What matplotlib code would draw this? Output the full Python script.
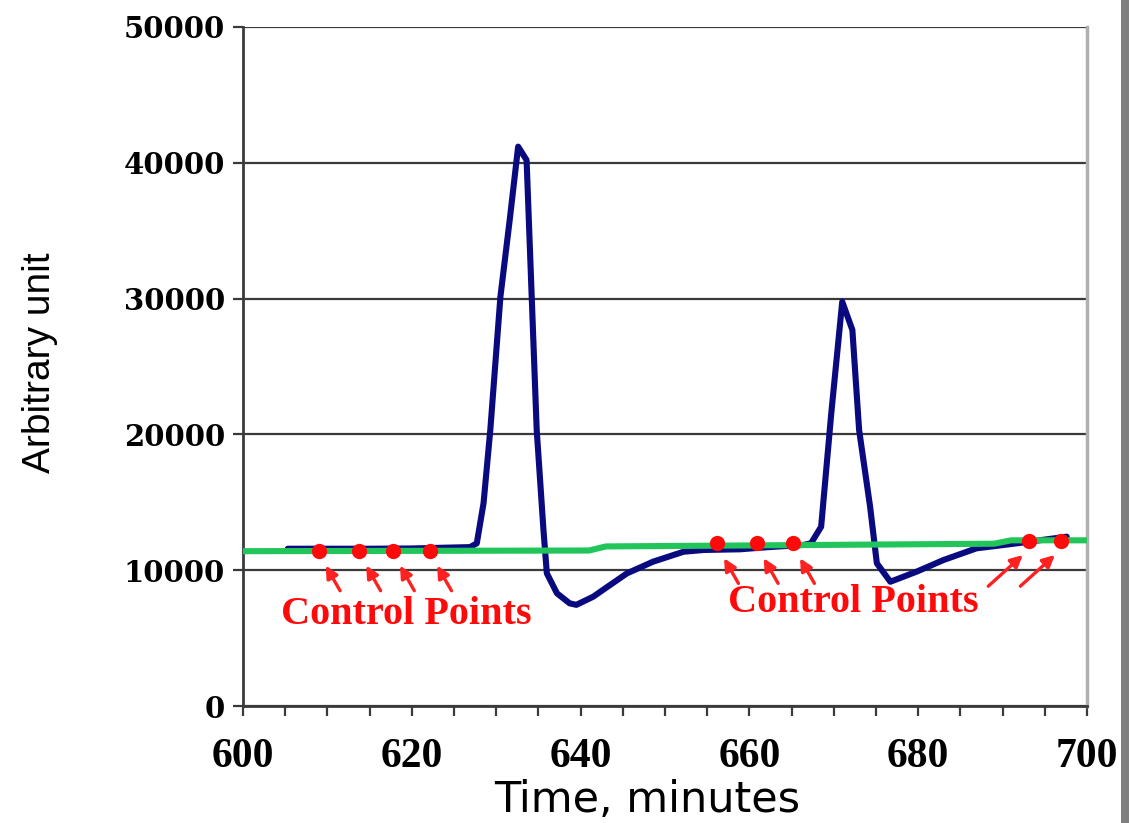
import matplotlib
matplotlib.use("Agg")
import matplotlib.pyplot as plt
from matplotlib.patches import Rectangle
from matplotlib.ticker import MultipleLocator

# ---- data ----
signal_t = [605.3, 610, 615, 620, 626.9, 627.7, 628.5, 629.3, 630.5, 631.6, 632.6, 633.6,
            634.8, 635.6, 636.0, 637.2, 638.7, 639.5, 641.5, 643, 645.5, 648.6, 652.2,
            654.6, 658.9, 662.0, 666.4, 667.3, 668.5, 669.7, 671.0, 672.2, 673.0, 674.3,
            675.1, 676.7, 679.8, 683.0, 686.9, 691.7, 697.6]
signal_v = [11580, 11580, 11580, 11600, 11700, 11980, 14930, 20320, 30140, 35790, 41190, 40200,
            20320, 12960, 9770, 8300, 7560, 7450, 8050, 8700, 9770, 10630, 11360,
            11490, 11540, 11690, 11860, 11980, 13200, 21550, 29770, 27690, 20320, 14680,
            10510, 9150, 9890, 10750, 11610, 11980, 12470]

baseline_t = [600, 641, 643, 689, 691, 700]
baseline_v = [11400, 11450, 11750, 11950, 12200, 12200]

ctrl_t = [609.0, 613.8, 617.8, 622.2, 656.2, 660.9, 665.2, 693.1, 696.9]
ctrl_v = [11440, 11440, 11440, 11440, 11980, 11980, 11980, 12170, 12170]

xticks = [600, 620, 640, 660, 680, 700]
yticks = [0, 10000, 20000, 30000, 40000, 50000]
label_text = "Control Points"

# ---- figure ----
fig = plt.figure(figsize=(11.29, 8.23), dpi=100)
fig.patch.set_facecolor("white")
ax = fig.add_axes([243/1129, 1-706/823, (1087-243)/1129, (706-27)/823])

ax.set_xlim(600, 700)
ax.set_ylim(0, 50000)
ax.set_xticks(xticks)
ax.set_yticks(yticks)
ax.xaxis.set_minor_locator(MultipleLocator(5))

ax.yaxis.grid(True, color="#3a3a3a", lw=1.6)
ax.set_axisbelow(True)

for s in ["left", "bottom"]:
    ax.spines[s].set_color("#3a3a3a")
    ax.spines[s].set_linewidth(2)
ax.spines["top"].set_visible(False)
ax.spines["right"].set_color("#b0b0b0")
ax.spines["right"].set_linewidth(2.5)

ax.tick_params(axis="y", direction="out", length=7, width=1.6, color="#3a3a3a", pad=6)
ax.tick_params(axis="x", which="both", direction="out", length=7, width=1.6, color="#3a3a3a", pad=16)
ax.tick_params(axis="x", which="minor", length=7)

for lab in ax.get_yticklabels():
    lab.set_fontfamily("DejaVu Serif")
    lab.set_fontweight("bold")
    lab.set_fontsize(21)
for lab in ax.get_xticklabels():
    lab.set_fontfamily("Liberation Serif")
    lab.set_fontweight("bold")
    lab.set_fontsize(30)

ax.plot(signal_t, signal_v, color="#0a0a80", lw=4.4, solid_joinstyle="round",
        solid_capstyle="round", zorder=3)
ax.plot(baseline_t, baseline_v, color="#22c55a", lw=4.4, zorder=4)
ax.plot(ctrl_t, ctrl_v, "o", color="#ff0a0a", ms=11, mec="none", zorder=5)

# arrows
for i, (t, v) in enumerate(zip(ctrl_t, ctrl_v)):
    if i < 7:
        head = (t + 0.8, v - 1100)
        tail = (t + 2.5, v - 2950)
    else:
        head = (t - 0.7, v - 1050)
        tail = (t - 4.8, v - 3350)
    ax.annotate("", xy=head, xytext=tail,
                arrowprops=dict(arrowstyle="-|>", color="#ff2020", lw=2.4,
                                mutation_scale=18, shrinkA=0, shrinkB=0),
                zorder=5)

ax.text(619.4, 6750, label_text, color="#ff0a0a", fontsize=29, fontweight="bold",
        family="Liberation Serif", ha="center", va="center", zorder=6)
ax.text(672.3, 7600, label_text, color="#ff0a0a", fontsize=29, fontweight="bold",
        family="Liberation Serif", ha="center", va="center", zorder=6)

fig.text(647/1129, 1-800/823, "Time, minutes", fontsize=31, family="DejaVu Sans",
         ha="center", va="center")
fig.text(40/1129, 1-363/823, "Arbitrary unit", fontsize=28, family="Liberation Sans",
         rotation=90, ha="center", va="center")

fig.patches.append(Rectangle((1121/1129, 0), 8/1129, 1, transform=fig.transFigure,
                             facecolor="#7f7f7f", edgecolor="none"))

fig.savefig("out.png", dpi=100, facecolor="white")
